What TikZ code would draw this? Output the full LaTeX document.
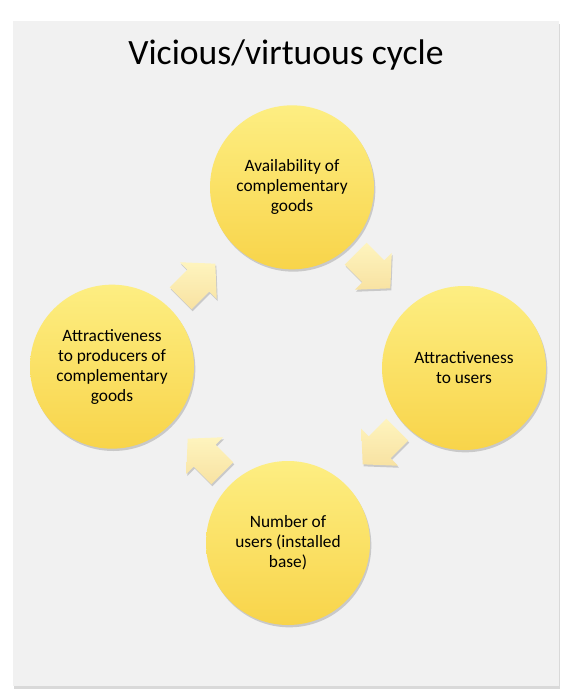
\documentclass[tikz,border=0pt]{standalone}
\usepackage{fontspec}
\setmainfont{Carlito}
\usetikzlibrary{shadows}

\definecolor{panelgray}{HTML}{F1F1F1}
\definecolor{sunlight}{HTML}{FDEE82}
\definecolor{sundark}{HTML}{F8D44A}
\definecolor{palelight}{HTML}{FEF4BE}
\definecolor{paledark}{HTML}{F8E2A2}

% block arrow: centre x, centre y, direction
\newcommand{\cyclearrow}[3]{%
    \shade[cyclearrow, shift={(#1,#2)}, x={(#3:1cm)}, y={(#3+90:1cm)}]
        (-0.735,-0.465) -- (0.015,-0.465) -- (0.015,-0.78) -- (0.735,0)
        -- (0.015,0.78) -- (0.015,0.465) -- (-0.735,0.465) -- cycle;}

\begin{document}
\begin{tikzpicture}[
    bubble/.style={circle, minimum size=4.92cm, inner sep=0pt, align=center,
        top color=sunlight, bottom color=sundark,
        drop shadow={shadow xshift=0.04cm, shadow yshift=-0.07cm, opacity=0.35},
        font=\fontsize{14.8}{17.1}\selectfont},
    cyclearrow/.style={top color=palelight, bottom color=paledark,
        drop shadow={shadow xshift=0.03cm, shadow yshift=-0.06cm, opacity=0.35}}]

    \useasboundingbox (0,0) rectangle (17.1,-20.91);

    % Panel
    \fill[panelgray, drop shadow={shadow xshift=0.03cm, shadow yshift=-0.09cm, opacity=0.3}]
        (0.39,-0.63) rectangle (16.77,-20.58);

    % Title
    \node[anchor=base, font=\fontsize{30.4}{36}\selectfont] (title) at (8.58,-1.95) {Vicious/virtuous cycle};

    % Circles
    \node[bubble] (avail) at (8.76,-5.62) {Availability of\\complementary\\goods};
    \node[bubble] (users) at (13.92,-11.04) {Attractiveness\\to users};
    \node[bubble] (base) at (8.64,-16.29) {Number of\\users (installed\\base)};
    \node[bubble] (producers) at (3.36,-11.0) {Attractiveness\\to producers of\\complementary\\goods};

    % Arrows
    \cyclearrow{5.94}{-8.43}{45}
    \cyclearrow{11.19}{-8.13}{-45}
    \cyclearrow{11.4}{-13.41}{225}
    \cyclearrow{6.15}{-13.68}{135}

\end{tikzpicture}
\end{document}
